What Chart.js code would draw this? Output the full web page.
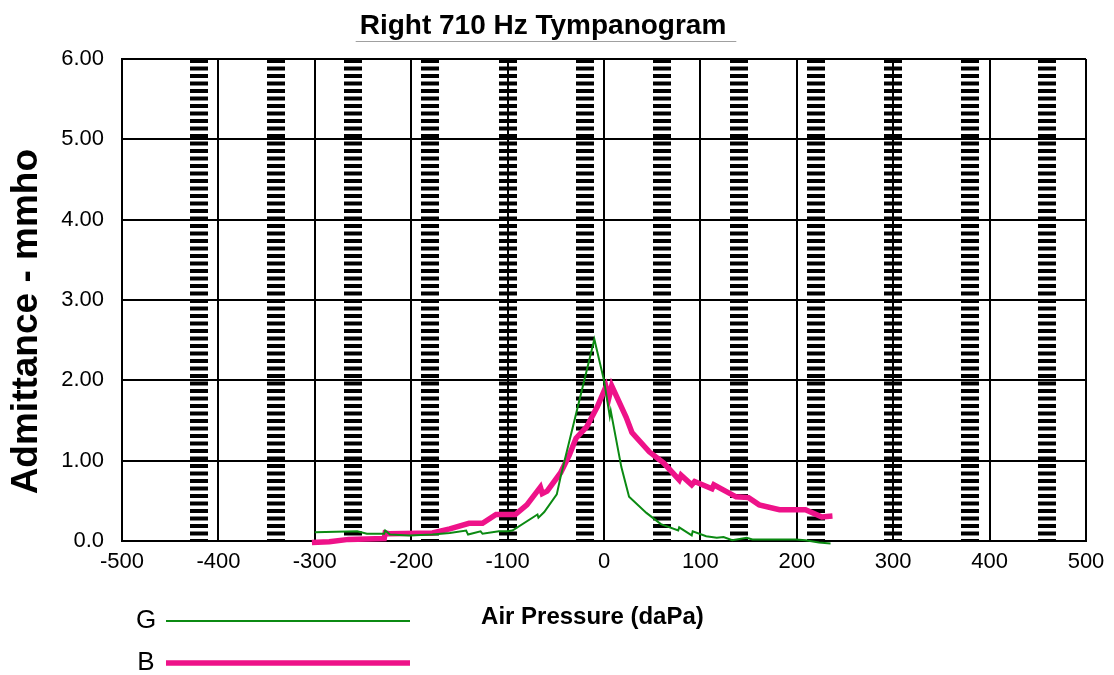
<!DOCTYPE html>
<html>
<head>
<meta charset="utf-8">
<script src="https://cdn.jsdelivr.net/npm/chart.js@4.4.1/dist/chart.umd.min.js"></script>
<style>
  html, body { margin: 0; padding: 0; background: #fff; }
  canvas { display: block; }
</style>
</head>
<body>
<canvas id="c" width="1114" height="675"></canvas>
<script>
// ---- data ----
const chartTitle = 'Right 710 Hz Tympanogram';
const xTitle = 'Air Pressure (daPa)';
const yTitle = 'Admittance - mmho';
const seriesLabels = ['G', 'B'];

const pressureG = [-300, -256, -246, -228, -227, -222, -202, -178, -160, -143, -141, -128, -126, -109, -100, -95, -69, -68, -62, -49, -45, -10, 0, 6, 7, 18, 26, 44, 59, 77, 78, 91, 92, 106, 117, 124, 133, 148, 154, 199, 209, 223, 235];
const admitG    = [0.11, 0.12, 0.09, 0.09, 0.13, 0.08, 0.07, 0.08, 0.10, 0.13, 0.08, 0.12, 0.09, 0.12, 0.12, 0.13, 0.33, 0.29, 0.36, 0.58, 0.80, 2.51, 2.00, 1.55, 1.62, 0.92, 0.55, 0.35, 0.21, 0.13, 0.17, 0.07, 0.12, 0.06, 0.04, 0.05, 0.01, 0.04, 0.02, 0.02, 0.01, -0.02, -0.03];

const pressureB = [-303, -285, -265, -228, -227, -223, -178, -160, -140, -126, -112, -100, -92, -80, -66, -64, -59, -45, -36, -29, -18, -7, 2, 5, 8, 23, 29, 47, 62, 78, 80, 91, 94, 112, 114, 137, 150, 161, 182, 209, 226, 237];
const admitB    = [-0.02, -0.01, 0.02, 0.03, 0.10, 0.09, 0.10, 0.15, 0.22, 0.22, 0.33, 0.33, 0.33, 0.45, 0.67, 0.59, 0.62, 0.85, 1.07, 1.28, 1.42, 1.67, 1.92, 1.78, 1.93, 1.54, 1.35, 1.11, 0.97, 0.76, 0.82, 0.70, 0.74, 0.65, 0.70, 0.55, 0.54, 0.45, 0.39, 0.39, 0.30, 0.31];

const xMin = -500, xMax = 500, xStep = 100;
const yMin = 0, yMax = 6, yStep = 1;
const dashGridValues = [-420, -340, -260, -180, -100, -20, 60, 140, 220, 300, 380, 460];

// ---- styles ----
const FONT = '"Liberation Sans", Arial, Helvetica, sans-serif';
const GREEN = '#0B8A12';
const PINK = '#EE1289';

const ptsG = pressureG.map((x, i) => ({ x, y: admitG[i] }));
const ptsB = pressureB.map((x, i) => ({ x, y: admitB[i] }));

Chart.defaults.font.family = FONT;
Chart.defaults.color = '#000';

const decorations = {
  id: 'decorations',
  afterDraw(chart) {
    const ctx = chart.ctx;
    const area = chart.chartArea;
    ctx.save();
    // series key at bottom left
    chart.data.datasets.forEach((ds, i) => {
      const y = 621 + i * 42;
      ctx.font = '26px ' + FONT;
      ctx.fillStyle = '#000';
      ctx.textAlign = 'center';
      ctx.textBaseline = 'middle';
      ctx.fillText(ds.label, 146, y);
      ctx.strokeStyle = ds.borderColor;
      ctx.lineWidth = ds.borderWidth;
      ctx.beginPath();
      ctx.moveTo(166, y);
      ctx.lineTo(410, y);
      ctx.stroke();
    });
    // x axis title
    ctx.font = 'bold 24px ' + FONT;
    ctx.fillStyle = '#000';
    ctx.textAlign = 'center';
    ctx.textBaseline = 'middle';
    ctx.fillText(xTitle, area.left + (area.right - area.left) * 0.488, 617);
    // y axis title
    ctx.save();
    ctx.translate(27, area.top + (area.bottom - area.top) * 0.545);
    ctx.rotate(-Math.PI / 2);
    ctx.font = 'bold 37px ' + FONT;
    ctx.fillText(yTitle, 0, 0);
    ctx.restore();
    // title underline
    const tb = chart.titleBlock;
    if (tb) {
      ctx.font = 'bold 28px ' + FONT;
      const w = ctx.measureText(chartTitle).width;
      const cx = (tb.left + tb.right) / 2;
      ctx.strokeStyle = '#a0a0a0';
      ctx.lineWidth = 1;
      ctx.beginPath();
      ctx.moveTo(cx - w / 2 - 4, 41.5);
      ctx.lineTo(cx + w / 2 + 10, 41.5);
      ctx.stroke();
    }
    ctx.restore();
  }
};

new Chart(document.getElementById('c'), {
  type: 'line',
  data: {
    datasets: [
      { label: seriesLabels[0], data: ptsG, borderColor: GREEN, borderWidth: 2, pointRadius: 0, tension: 0, fill: false, clip: false, xAxisID: 'x', yAxisID: 'y' },
      { label: seriesLabels[1], data: ptsB, borderColor: PINK, borderWidth: 5.5, pointRadius: 0, tension: 0, fill: false, clip: false, xAxisID: 'x', yAxisID: 'y' }
    ]
  },
  options: {
    responsive: false,
    animation: false,
    events: [],
    layout: { padding: { left: 0, right: 28, top: 0, bottom: 45 } },
    plugins: {
      legend: { display: false },
      tooltip: { enabled: false },
      title: {
        display: true,
        text: chartTitle,
        color: '#000',
        font: { family: FONT, size: 28, weight: 'bold' },
        padding: { top: 9, bottom: 16.4 }
      }
    },
    scales: {
      x2: {
        type: 'linear',
        position: 'bottom',
        min: xMin, max: xMax,
        afterBuildTicks: (s) => { s.ticks = dashGridValues.map(v => ({ value: v })); },
        afterFit: (s) => { s.height = 0; },
        ticks: { display: false },
        grid: { color: '#000', lineWidth: 18, drawTicks: false },
        border: { display: false, dash: [4, 3.5] }
      },
      x: {
        type: 'linear',
        position: 'bottom',
        min: xMin, max: xMax,
        afterFit: (s) => { s.height = 89; },
        ticks: { stepSize: xStep, color: '#000', font: { size: 22 }, padding: 8, maxRotation: 0, autoSkip: false },
        grid: { color: '#000', lineWidth: 2, drawTicks: false },
        border: { color: '#000', width: 2 },
        title: { display: false, text: xTitle }
      },
      y: {
        type: 'linear',
        min: yMin, max: yMax,
        afterFit: (s) => { s.width = 122; },
        ticks: {
          stepSize: yStep, color: '#000', font: { size: 22 }, padding: 18,
          callback: (v) => v === 0 ? '0.0' : Number(v).toFixed(2)
        },
        grid: { color: '#000', lineWidth: 2, drawTicks: false },
        border: { color: '#000', width: 2 },
        title: { display: false, text: yTitle }
      }
    }
  },
  plugins: [decorations]
});
</script>
</body>
</html>
